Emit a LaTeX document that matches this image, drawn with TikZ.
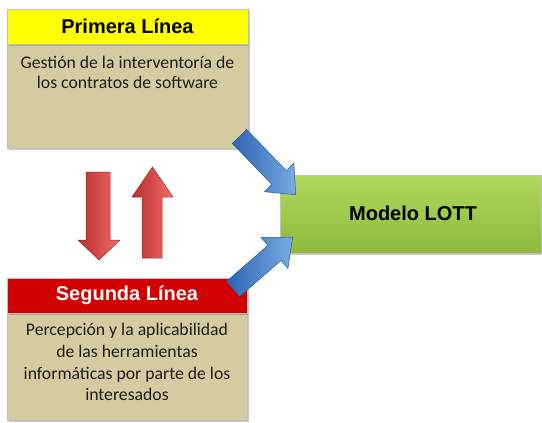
\documentclass[tikz,border=0pt]{standalone}
\usepackage{fontspec}
\setmainfont{Carlito}
\newfontfamily\headfont{Liberation Sans}
\usetikzlibrary{shadows}

\definecolor{tanbody}{RGB}{212,203,160}
\definecolor{yellowhead}{RGB}{255,255,0}
\definecolor{redhead}{RGB}{210,0,0}
\definecolor{greentop}{RGB}{178,216,92}
\definecolor{greenbot}{RGB}{140,186,60}
\definecolor{bluelight}{RGB}{120,172,228}
\definecolor{bluedark}{RGB}{45,100,176}
\definecolor{blueedge}{RGB}{40,90,160}
\definecolor{redlight}{RGB}{240,110,105}
\definecolor{reddark}{RGB}{185,45,45}
\definecolor{rededge}{RGB}{160,40,40}
\definecolor{textgray}{RGB}{30,30,30}

\tikzset{
  boxshadow/.style={drop shadow={shadow xshift=1.5pt,shadow yshift=-1.5pt,opacity=0.35,fill=black!60}},
  headbox/.style={draw=black!25,line width=0.4pt,boxshadow},
  bodybox/.style={fill=tanbody,draw=black!25,line width=0.4pt,boxshadow},
  headtext/.style={font=\headfont\bfseries\fontsize{20}{22}\selectfont},
  bodytext/.style={font=\fontsize{17.7}{20.5}\selectfont,text=textgray,align=center,inner sep=0pt},
  bluearrow/.style={left color=bluedark,right color=bluelight,draw=blueedge,line width=0.5pt},
  redarrow/.style={left color=reddark,right color=redlight,draw=rededge,line width=0.5pt},
}

\begin{document}
\begin{tikzpicture}[x=1pt,y=-1pt]
\useasboundingbox (0,0) rectangle (542,423);

% top group
\path[bodybox] (7,44) rectangle (248,148);
\path[headbox,fill=yellowhead] (7,9) rectangle (248,44);
\node[headtext] (first) at (127.5,26.5) {Primera Línea};
\node[bodytext,anchor=north] (firsttext) at (127.5,56)
  {Gestión de la interventoría de\\los contratos de software};

% bottom group
\path[bodybox] (7,313) rectangle (247,420);
\path[headbox,fill=redhead] (7,278) rectangle (247,313);
\node[headtext,text=white] (second) at (127,295.5) {Segunda Línea};
\node[bodytext,anchor=north,font=\fontsize{17.7}{21.6}\selectfont] (secondtext) at (127,323.5)
  {Percepción y la aplicabilidad\\de las herramientas\\informáticas por parte de los\\interesados};

% model box
\path[headbox,top color=greentop,bottom color=greenbot] (280,175) rectangle (541,253);
\node[headtext] (model) at (413,213) {Modelo LOTT};

% red vertical arrows
\path[redarrow] (86,172) -- (110,172) -- (110,240) -- (120,240) -- (99,260)
  -- (78,240) -- (86,240) -- cycle;
\path[redarrow] (142,258) -- (142,197) -- (132,197) -- (152.5,167) -- (173,197)
  -- (162,197) -- (162,258) -- cycle;

% blue diagonal arrows into the model box
\begin{scope}[shift={(239.5,136.5)},rotate=-46]
  \path[bluearrow] (0,-10) -- (57,-10) -- (57,-20.5) -- (81,0) -- (57,20.5)
    -- (57,10) -- (0,10) -- cycle;
\end{scope}
\begin{scope}[shift={(233,289)},rotate=41]
  \path[bluearrow] (0,-10) -- (55,-10) -- (55,-20.5) -- (79,0) -- (55,20.5)
    -- (55,10) -- (0,10) -- cycle;
\end{scope}
\end{tikzpicture}
\end{document}
